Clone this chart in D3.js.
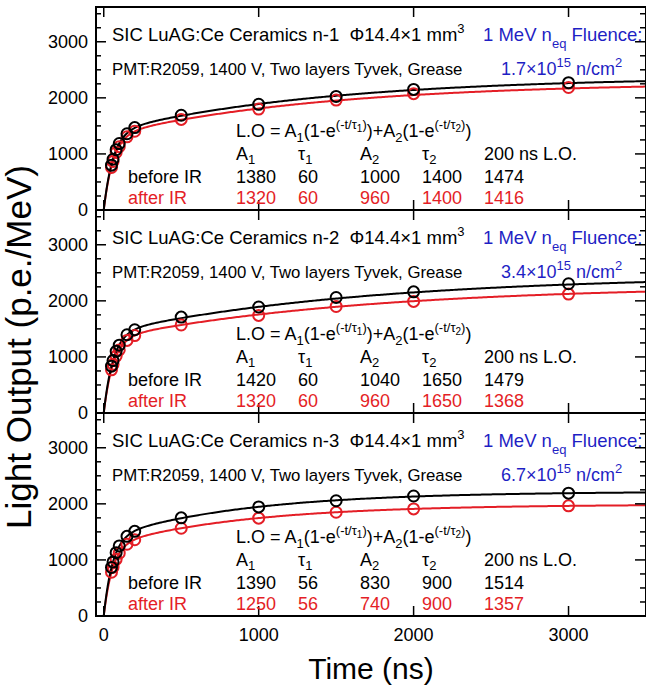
<!DOCTYPE html>
<html>
<head>
<meta charset="utf-8">
<script src="https://cdn.jsdelivr.net/npm/d3@7"></script>
<style>
body { margin: 0; background: #fff; }
svg { display: block; font-family: "Liberation Sans", Arial, sans-serif; }
text { white-space: pre; }
</style>
</head>
<body>
<div id="chart"></div>
<script>
// gate widths (ns) and light output (p.e./MeV)
var times = [50, 60, 80, 100, 150, 200, 500, 1000, 1500, 2000, 3000];
var sampleNames = ["n-1", "n-2", "n-3"];
var fluences = ["1.7", "3.4", "6.7"];

var beforeLO = [
	[800, 905, 1075, 1185, 1360, 1470, 1690, 1885, 2025, 2150, 2270],
	[835, 935, 1100, 1210, 1395, 1485, 1710, 1890, 2060, 2160, 2305],
	[866, 965, 1130, 1250, 1420, 1510, 1750, 1945, 2055, 2140, 2190]
];
var afterLO = [
	[760, 865, 1025, 1130, 1305, 1405, 1615, 1800, 1960, 2075, 2185],
	[770, 868, 1015, 1125, 1295, 1380, 1570, 1740, 1900, 1990, 2120],
	[780, 870, 1010, 1120, 1280, 1360, 1565, 1745, 1850, 1910, 1965]
];

// fit parameters L.O = A1(1-exp(-t/tau1)) + A2(1-exp(-t/tau2))
var beforeA1 = [1380, 1420, 1390];
var beforeTau1 = [60, 60, 56];
var beforeA2 = [1000, 1040, 830];
var beforeTau2 = [1400, 1650, 900];
var beforeLO200 = [1474, 1479, 1514];
var afterA1 = [1320, 1320, 1250];
var afterTau1 = [60, 60, 56];
var afterA2 = [960, 960, 740];
var afterTau2 = [1400, 1650, 900];
var afterLO200 = [1416, 1368, 1357];

var xTicks = [0, 1000, 2000, 3000];
var yTicks = [0, 1000, 2000, 3000];
var yMinorTicks = [250, 500, 750, 1250, 1500, 1750, 2250, 2500, 2750, 3250, 3500];

var RED = "#e41e26";
var BLUE = "#1f1fc4";

var width = 646, height = 685;
var left = 96, right = 646, top0 = 7, panelH = 203;

var svg = d3.select("#chart").append("svg")
	.attr("width", width).attr("height", height);

var x = d3.scaleLinear().domain([-50, 3500]).range([left, right]);

var fitValue = function(t, a1, t1, a2, t2) {
	return a1 * (1 - Math.exp(-t / t1)) + a2 * (1 - Math.exp(-t / t2));
};
var curveTimes = d3.range(0, 100, 0.5).concat(d3.range(100, 3501, 10));

var drawPanel = function(i) {
	var P = top0 + i * panelH;
	var y = d3.scaleLinear().domain([0, 3620]).range([P + panelH, P]);
	var g = svg.append("g");

	// fit curves
	var line = d3.line().x(function(d) { return x(d[0]); }).y(function(d) { return y(d[1]); });
	var fits = [
		{color: "#000", a1: beforeA1[i], t1: beforeTau1[i], a2: beforeA2[i], t2: beforeTau2[i], pts: beforeLO[i]},
		{color: RED, a1: afterA1[i], t1: afterTau1[i], a2: afterA2[i], t2: afterTau2[i], pts: afterLO[i]}
	];
	fits.slice().reverse().forEach(function(f) {
		g.append("path")
			.datum(curveTimes.map(function(t) { return [t, fitValue(t, f.a1, f.t1, f.a2, f.t2)]; }))
			.attr("d", line)
			.attr("fill", "none").attr("stroke", f.color).attr("stroke-width", 2);
	});
	fits.slice().reverse().forEach(function(f) {
		g.selectAll(null).data(f.pts).enter().append("circle")
			.attr("cx", function(d, j) { return x(times[j]); })
			.attr("cy", function(d) { return y(d); })
			.attr("r", 5.5)
			.attr("fill", "none").attr("stroke", f.color).attr("stroke-width", 2);
	});

	// frame and ticks
	g.append("rect").attr("x", left).attr("y", P).attr("width", right - left).attr("height", panelH)
		.attr("fill", "none").attr("stroke", "#000").attr("stroke-width", 2);
	yTicks.concat(yMinorTicks).forEach(function(v) {
		var len = yTicks.indexOf(v) >= 0 ? 10 : 5;
		g.append("line").attr("x1", left).attr("x2", left + len).attr("y1", y(v)).attr("y2", y(v))
			.attr("stroke", "#000").attr("stroke-width", 1.5);
		g.append("line").attr("x1", right - 1).attr("x2", right - 1 - len).attr("y1", y(v)).attr("y2", y(v))
			.attr("stroke", "#000").attr("stroke-width", 1.5);
	});
	xTicks.forEach(function(v) {
		g.append("line").attr("x1", x(v)).attr("x2", x(v)).attr("y1", P).attr("y2", P + 10)
			.attr("stroke", "#000").attr("stroke-width", 1.5);
		g.append("line").attr("x1", x(v)).attr("x2", x(v)).attr("y1", P + panelH).attr("y2", P + panelH - 10)
			.attr("stroke", "#000").attr("stroke-width", 1.5);
	});
	g.selectAll(null).data(yTicks).enter().append("text")
		.attr("x", 88).attr("y", function(d) { return y(d); }).attr("dy", "0.36em")
		.attr("text-anchor", "end").attr("font-size", 18).text(function(d) { return d; });

	// labels
	var t1 = g.append("text").attr("x", 112).attr("y", P + 34).attr("font-size", 18.5);
	t1.append("tspan").text("SIC LuAG:Ce Ceramics " + sampleNames[i] + "  Φ14.4×1 mm");
	t1.append("tspan").attr("dy", -8).attr("font-size", 13).text("3");

	var t2 = g.append("text").attr("x", 483).attr("y", P + 34).attr("font-size", 18.5).attr("fill", BLUE);
	t2.append("tspan").text("1 MeV n");
	t2.append("tspan").attr("dy", 7).attr("font-size", 13).text("eq");
	t2.append("tspan").attr("dy", -7).text(" Fluence:");

	g.append("text").attr("x", 112).attr("y", P + 68).attr("font-size", 16.8).text("PMT:R2059, 1400 V, Two layers Tyvek, Grease");

	var t3 = g.append("text").attr("x", 501).attr("y", P + 68).attr("font-size", 18).attr("fill", BLUE);
	t3.append("tspan").text(fluences[i] + "×10");
	t3.append("tspan").attr("dy", -8).attr("font-size", 13).text("15");
	t3.append("tspan").attr("dy", 8).text(" n/cm");
	t3.append("tspan").attr("dy", -8).attr("font-size", 13).text("2");

	var f = g.append("text").attr("x", 236).attr("y", P + 130).attr("font-size", 18);
	var parts = [
		["L.O = A", 0, 18], ["1", 5, 13], ["(1-e", -5, 18], ["(-t/τ", -8, 13], ["1", 3, 10], [")", -3, 13],
		[")+A", 8, 18], ["2", 5, 13], ["(1-e", -5, 18], ["(-t/τ", -8, 13], ["2", 3, 10], [")", -3, 13], [")", 8, 18]
	];
	parts.forEach(function(p) {
		f.append("tspan").attr("dy", p[1]).attr("font-size", p[2]).text(p[0]);
	});

	var cols = [236, 298, 360, 422, 484];
	var head = [["A", "1"], ["τ", "1"], ["A", "2"], ["τ", "2"], ["200 ns L.O.", ""]];
	head.forEach(function(h, k) {
		var ht = g.append("text").attr("x", cols[k]).attr("y", P + 153).attr("font-size", 18);
		ht.append("tspan").text(h[0]);
		if (h[1]) ht.append("tspan").attr("dy", 4).attr("font-size", 13).text(h[1]);
	});
	var rows = [
		{label: "before IR", color: "#000", y: P + 176, vals: [beforeA1[i], beforeTau1[i], beforeA2[i], beforeTau2[i], beforeLO200[i]]},
		{label: "after IR", color: RED, y: P + 197, vals: [afterA1[i], afterTau1[i], afterA2[i], afterTau2[i], afterLO200[i]]}
	];
	rows.forEach(function(r) {
		g.append("text").attr("x", 128).attr("y", r.y).attr("font-size", 18).attr("fill", r.color).text(r.label);
		r.vals.forEach(function(v, k) {
			g.append("text").attr("x", cols[k]).attr("y", r.y).attr("font-size", 18).attr("fill", r.color).text(v);
		});
	});
};

[0, 1, 2].forEach(drawPanel);

var bottom = top0 + 3 * panelH;
svg.selectAll(".xlab").data(xTicks).enter().append("text")
	.attr("x", function(d) { return x(d); }).attr("y", bottom + 25)
	.attr("text-anchor", "middle").attr("font-size", 18).text(function(d) { return d; });

svg.append("text").attr("x", 371).attr("y", 679).attr("text-anchor", "middle")
	.attr("font-size", 30).text("Time (ns)");
svg.append("text").attr("transform", "translate(31," + 347 + ") rotate(-90)")
	.attr("text-anchor", "middle").attr("font-size", 35).text("Light Output (p.e./MeV)");
</script>
</body>
</html>
